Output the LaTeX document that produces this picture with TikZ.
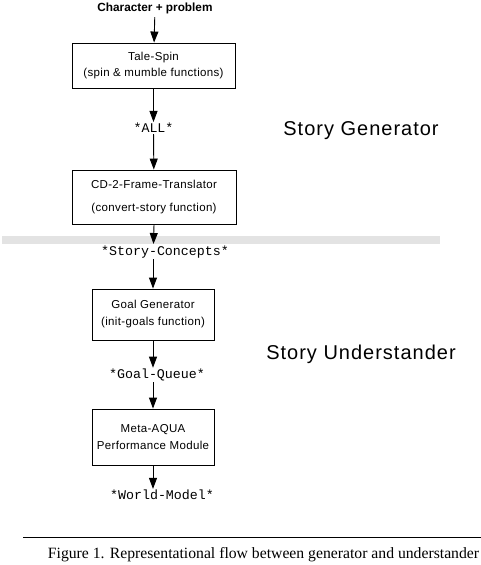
\documentclass[tikz,border=0pt]{standalone}
\usepackage{fontspec}
\setmainfont{Liberation Serif}
\setsansfont{Liberation Sans}
\setmonofont{Liberation Mono}
\usetikzlibrary{arrows.meta}

\begin{document}
\begin{tikzpicture}[x=1pt, y=-1pt,
        box/.style={draw, line width=0.9pt, align=center, inner sep=0pt,
            font=\sffamily\addfontfeature{LetterSpace=3}\fontsize{11.5}{13}\selectfont},
        var/.style={inner sep=1pt, font=\ttfamily\fontsize{13.3}{13}\selectfont},
        part/.style={font=\sffamily\addfontfeature{LetterSpace=5}\fontsize{20}{20}\selectfont},
        flow/.style={line width=0.9pt, -{Triangle[width=8pt, length=11pt]}}]
        \useasboundingbox (0, 0) rectangle (481, 565);
        \fill[gray!22] (2, 235.5) rectangle (440, 243.5);
        % the pipeline
        \node[font=\sffamily\bfseries\fontsize{11.8}{12}\selectfont] (input) at (155, 8) {Character + problem};
        \node[box, minimum width=163pt, minimum height=45pt] (spin) at (153.5, 65.5)
            {Tale-Spin\\[3pt](spin \& mumble functions)};
        \node[var] (all) at (153.5, 128) {*ALL*};
        \node[box, minimum width=164pt, minimum height=54pt] (trans) at (154, 197)
            {CD-2-Frame-Translator\\[10pt](convert-story function)};
        \node[var] (concepts) at (165, 252) {*Story-Concepts*};
        \coordinate (band) at (153.5, 244);
        \node[box, minimum width=122pt, minimum height=51pt] (goals) at (153, 314.5)
            {Goal Generator\\[4pt](init-goals function)};
        \node[var] (queue) at (157, 375) {*Goal-Queue*};
        \node[box, minimum width=122pt, minimum height=56pt] (aqua) at (153, 437)
            {Meta-AQUA\\[4pt]Performance Module};
        \node[var] (world) at (162, 495) {*World-Model*};
        \draw[flow] (input) -- (spin);
        \draw[flow] (spin) -- (all);
        \draw[flow] (all) -- (trans);
        \draw[flow] (trans.south) -- (band);
        \draw[flow] (concepts.south -| goals.north) -- (goals);
        \draw[flow] (goals.south) -- (queue.north -| goals.south);
        \draw[flow] (queue.south -| goals.south) -- (aqua);
        \draw[flow] (aqua.south) -- (world.north -| aqua.south);
        % the two halves
        \node[part] (gen) at (361, 131) {Story Generator};
        \node[part] (und) at (361, 354) {Story Understander};
        % caption
        \draw[line width=0.9pt] (23, 537) -- (481, 537);
        \node[font=\fontsize{15.7}{16}\selectfont] (cap) at (263.5, 555)
            {Figure 1. Representational flow between generator and understander};
    \end{tikzpicture}
\end{document}
